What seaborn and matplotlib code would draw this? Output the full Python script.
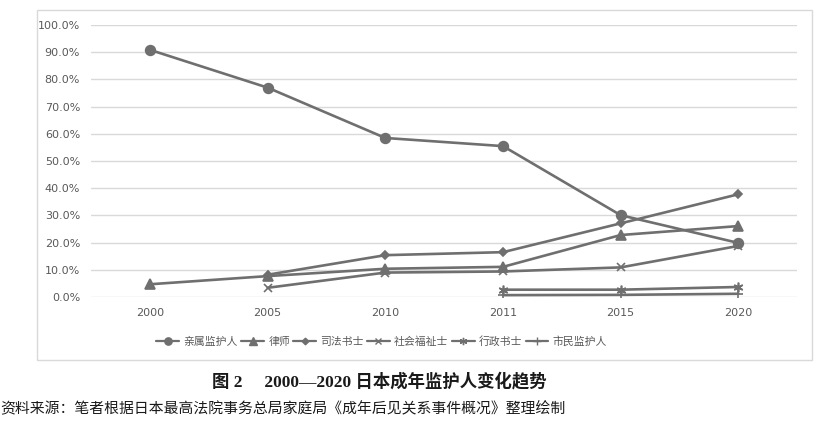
import pandas as pd
import numpy as np
import matplotlib.pyplot as plt
import seaborn as sns
from matplotlib.patches import Rectangle
from matplotlib.lines import Line2D
from matplotlib.ticker import PercentFormatter

# Data (share of appointed guardians)
years = ['2000', '2005', '2010', '2011', '2015', '2020']
relatives = [0.909, 0.770, 0.585, 0.555, 0.301, 0.199]
lawyers = [0.047, 0.077, 0.104, 0.111, 0.228, 0.261]
judicial_scriveners = [np.nan, 0.082, 0.154, 0.165, 0.271, 0.378]
social_workers = [np.nan, 0.034, 0.090, 0.094, 0.109, 0.188]
admin_scriveners = [np.nan, np.nan, np.nan, 0.027, 0.027, 0.037]
citizen_guardians = [np.nan, np.nan, np.nan, 0.007, 0.008, 0.012]

series_names = ['亲属监护人', '律师', '司法书士', '社会福祉士', '行政书士', '市民监护人']
series_values = [relatives, lawyers, judicial_scriveners, social_workers,
                 admin_scriveners, citizen_guardians]
markers = ['o', '^', 'D', 'x', (6, 2, 0), '+']
marker_sizes = [7, 7, 4.5, 6, 7, 7]

df = pd.DataFrame({
    'year': years * len(series_names),
    'share': [v for vals in series_values for v in vals],
    'group': [n for n in series_names for _ in years],
}).dropna()

sns.set_style('white')
plt.rcParams['font.family'] = ['Noto Sans CJK SC', 'DejaVu Sans']

line_color = '#6f6f6f'
fig = plt.figure(figsize=(8.21, 4.33), dpi=100)
ax = fig.add_axes([0.111, 0.314, 0.860, 0.628])

pos = {y: i for i, y in enumerate(years)}
df['x'] = df['year'].map(pos)

handles = []
for name, m, ms in zip(series_names, markers, marker_sizes):
    sub = df[df['group'] == name]
    sns.lineplot(data=sub, x='x', y='share', ax=ax, color=line_color,
                 linewidth=1.9, marker=m, markersize=ms, markeredgecolor=line_color,
                 markeredgewidth=1.2, legend=False)
    handles.append(Line2D([], [], color=line_color, linewidth=1.6, marker=m,
                          markersize=ms * 0.75, markeredgecolor=line_color,
                          label=name))

ax.set_xlim(-0.5, len(years) - 0.5)
ax.set_ylim(0, 1.0)
ax.set_xticks(range(len(years)))
ax.set_xticklabels(years)
ax.set_yticks(np.arange(0, 1.01, 0.1))
ax.yaxis.set_major_formatter(PercentFormatter(1.0, decimals=1))
ax.tick_params(axis='both', length=0, labelsize=8, labelcolor='#595959', pad=8)
for lab in ax.get_xticklabels() + ax.get_yticklabels():
    lab.set_family(['DejaVu Sans'])
ax.grid(axis='y', color='#d9d9d9', linewidth=1)
ax.set_axisbelow(True)
for s in ax.spines.values():
    s.set_visible(False)
ax.set_xlabel('')
ax.set_ylabel('')

fig.legend(handles=handles, loc='center', bbox_to_anchor=(0.465, 0.212), ncol=6,
           frameon=False, fontsize=7.8, labelcolor='#595959', handlelength=2.1,
           handletextpad=0.4, columnspacing=0.3)

# outer chart border
fig.add_artist(Rectangle((0.045, 0.168), 0.944, 0.808, transform=fig.transFigure,
                         fill=False, edgecolor='#d9d9d9', linewidth=1))

fig.text(0.462, 0.118, '图 2     2000—2020 日本成年监护人变化趋势', ha='center',
         va='center', fontsize=12.5, fontweight='bold', color='#1a1a1a',
         family=['Liberation Serif', 'Noto Sans CJK SC'])
fig.text(0.0, 0.057, '资料来源：笔者根据日本最高法院事务总局家庭局《成年后见关系事件概况》整理绘制',
         ha='left', va='center', fontsize=10.7, color='#1a1a1a')

fig.savefig('out.png', dpi=100)
